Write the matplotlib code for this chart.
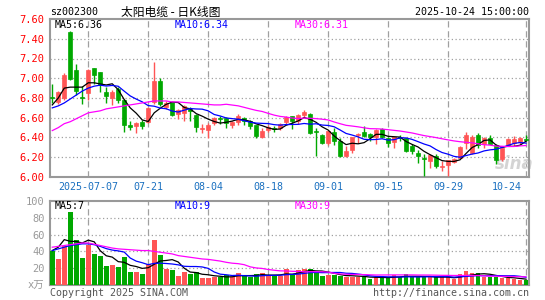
import numpy as np
import pandas as pd
import matplotlib
matplotlib.use("Agg")
import matplotlib.pyplot as plt

plt.rcParams['font.family'] = ['DejaVu Sans Mono', 'Noto Sans CJK SC']

# daily bars 2025-06-27 .. 2025-10-24 (80 trading days)
opens = [6.81, 6.76, 6.80, 7.47, 7.08, 6.81, 6.85, 7.10, 7.06, 6.86,
         6.80, 6.89, 6.78, 6.53, 6.52, 6.56, 6.56, 6.76, 6.97, 6.71,
         6.76, 6.64, 6.65, 6.69, 6.63, 6.49, 6.48, 6.55, 6.60, 6.60,
         6.53, 6.56, 6.60, 6.57, 6.53, 6.41, 6.48, 6.50, 6.50, 6.56,
         6.62, 6.57, 6.63, 6.64, 6.47, 6.43, 6.34, 6.46, 6.36, 6.21,
         6.27, 6.43, 6.46, 6.44, 6.41, 6.49, 6.39, 6.35, 6.40, 6.39,
         6.31, 6.24, 6.19, 6.16, 6.21, 6.10, 6.12, 6.15, 6.19, 6.34,
         6.24, 6.43, 6.33, 6.40, 6.32, 6.18, 6.32, 6.34, 6.35, 6.38]
highs = [6.94, 6.87, 7.05, 7.48, 7.14, 6.92, 7.09, 7.10, 7.06, 6.91,
         6.88, 6.91, 6.79, 6.57, 6.56, 6.58, 6.71, 7.16, 7.00, 6.77,
         6.76, 6.69, 6.73, 6.71, 6.64, 6.54, 6.55, 6.61, 6.62, 6.61,
         6.57, 6.64, 6.61, 6.58, 6.53, 6.50, 6.53, 6.52, 6.55, 6.62,
         6.62, 6.64, 6.68, 6.65, 6.50, 6.44, 6.47, 6.50, 6.39, 6.31,
         6.41, 6.45, 6.52, 6.45, 6.49, 6.50, 6.40, 6.41, 6.43, 6.39,
         6.33, 6.27, 6.23, 6.23, 6.23, 6.16, 6.17, 6.19, 6.31, 6.46,
         6.43, 6.45, 6.40, 6.43, 6.33, 6.30, 6.39, 6.42, 6.40, 6.43]
lows = [6.75, 6.74, 6.78, 6.98, 6.83, 6.74, 6.78, 6.94, 6.86, 6.75,
        6.73, 6.75, 6.46, 6.48, 6.45, 6.49, 6.55, 6.74, 6.72, 6.69,
        6.62, 6.59, 6.57, 6.57, 6.46, 6.45, 6.39, 6.53, 6.54, 6.50,
        6.50, 6.53, 6.53, 6.49, 6.39, 6.39, 6.46, 6.46, 6.48, 6.54,
        6.49, 6.54, 6.61, 6.44, 6.21, 6.33, 6.32, 6.32, 6.20, 6.20,
        6.24, 6.34, 6.41, 6.36, 6.33, 6.39, 6.30, 6.29, 6.36, 6.25,
        6.23, 6.14, 6.01, 6.09, 6.09, 6.06, 6.01, 6.14, 6.19, 6.28,
        6.23, 6.29, 6.29, 6.33, 6.13, 6.16, 6.31, 6.31, 6.33, 6.36]
closes = [6.80, 6.86, 7.03, 6.99, 6.87, 6.80, 7.08, 7.03, 6.93, 6.82,
          6.86, 6.78, 6.53, 6.51, 6.55, 6.52, 6.70, 6.97, 6.74, 6.75,
          6.63, 6.68, 6.72, 6.67, 6.51, 6.50, 6.53, 6.60, 6.59, 6.55,
          6.56, 6.62, 6.57, 6.52, 6.42, 6.47, 6.51, 6.49, 6.54, 6.61,
          6.57, 6.63, 6.66, 6.45, 6.46, 6.34, 6.47, 6.36, 6.21, 6.26,
          6.41, 6.44, 6.42, 6.41, 6.48, 6.41, 6.34, 6.40, 6.39, 6.26,
          6.26, 6.21, 6.18, 6.22, 6.11, 6.11, 6.17, 6.18, 6.30, 6.43,
          6.41, 6.32, 6.39, 6.33, 6.17, 6.29, 6.38, 6.38, 6.39, 6.37]
# volume, 10k lots
volumes = [41, 31, 47, 87, 53, 32, 48, 37, 34, 23,
           24, 21, 33, 16, 16, 13, 25, 53, 36, 19,
           18, 11, 16, 13, 16, 8, 8, 10, 10, 12,
           9, 14, 11, 10, 13, 14, 11, 11, 11, 19,
           12, 18, 19, 19, 16, 11, 12, 12, 11, 10,
           10, 10, 10, 7, 9, 9, 9, 12, 9, 13,
           9, 9, 11, 9, 9, 9, 9, 7, 13, 17,
           14, 14, 9, 10, 10, 8, 8, 7, 6, 6]

# moving averages for the first days (window reaches back before the chart)
ma5_head = [6.73, 6.80, 6.90, 6.91]
ma10_head = [6.70, 6.72, 6.75, 6.79, 6.83, 6.87, 6.90, 6.92, 6.93]
ma30_head = [6.47, 6.50, 6.54, 6.56, 6.59, 6.62, 6.65, 6.66, 6.67, 6.69,
             6.70, 6.71, 6.72, 6.73, 6.74, 6.75, 6.76, 6.77, 6.77, 6.77,
             6.76, 6.76, 6.755, 6.75, 6.745, 6.74, 6.735, 6.73, 6.73]
vma5_head = [41, 45, 54, 52]
vma10_head = [41, 43, 45, 47, 48, 49, 49, 48, 46]
vma30_head = [45, 46, 47, 48, 49, 50, 50, 48.5, 47, 45.5,
              44, 43, 42.5, 42, 41.5, 41, 41, 40, 39, 38,
              37, 35, 34, 33, 32, 31, 30.5, 29.5, 28.5]

date_idx = [6, 16, 26, 36, 46, 56, 66, 79]
date_labels = ["2025-07-07", "07-21", "08-04", "08-18", "09-01",
               "09-15", "09-29", "10-24"]

RED = "#ff5555"
GREEN = "#00a800"
GRID = "#a0a0a0"


def moving(values, n, head):
    m = pd.Series(values, dtype=float).rolling(n).mean().to_numpy()
    m[:len(head)] = head
    return m


o = np.array(opens)
h = np.array(highs)
l = np.array(lows)
c = np.array(closes)
v = np.array(volumes, dtype=float)
x = np.arange(len(c))
up = c >= o
colors = np.where(up, RED, GREEN)

fig = plt.figure(figsize=(5.45, 3.0), dpi=100)
W, H = 545, 300
ax = fig.add_axes([50 / W, 123 / H, 479 / W, 158 / H])
axv = fig.add_axes([50 / W, 15 / H, 479 / W, 84 / H])

for a in (ax, axv):
    a.set_xlim(-0.38, 79.5)
    for s in a.spines.values():
        s.set_color("#999999")
        s.set_linewidth(1.5)
    a.tick_params(length=0, pad=4, labelsize=7.5)
    a.set_xticks([])
    for i in date_idx:
        a.axvline(i, color=GRID, lw=0.9, ls=(0, (5, 3)), zorder=1)

# price panel
ax.set_ylim(6.0, 7.6)
ticks = np.round(np.arange(6.0, 7.61, 0.2), 2)
ax.set_yticks(ticks)
ax.set_yticklabels(["%.2f" % t for t in ticks], color="#ff0000")
for t in ticks[1:-1]:
    ax.axhline(t, color=GRID, lw=0.9, ls=(0, (1, 2)), zorder=1)

ax.text(0.969, 0.085, "sina", transform=ax.transAxes, ha="center", va="center",
        fontsize=12, fontweight="bold", style="italic", color="#d4d4d4",
        family="DejaVu Sans", zorder=1)

ax.vlines(x, l, h, colors=colors, lw=1.0, zorder=3)
body = np.maximum(np.abs(c - o), 0.005)
ax.bar(x, body, bottom=np.minimum(o, c), width=0.72, color=colors,
       edgecolor=colors, linewidth=0.5, zorder=4)

ax.plot(x, moving(closes, 5, ma5_head), color="black", lw=0.9, zorder=5)
ax.plot(x, moving(closes, 10, ma10_head), color="#0000ff", lw=0.9, zorder=5)
ax.plot(x, moving(closes, 30, ma30_head), color="#ff00ff", lw=0.9, zorder=5)

for i, lab in zip(date_idx, date_labels):
    if i == date_idx[-1]:
        ax.text(78.3, -0.063, lab, ha="right", va="center", fontsize=7.2,
                color="#1a70c0", transform=ax.get_xaxis_transform())
    else:
        ax.text(i, -0.063, lab, ha="center", va="center", fontsize=7.2,
                color="#1a70c0", transform=ax.get_xaxis_transform())

# volume panel
axv.set_ylim(0, 100)
vt = [0, 20, 40, 60, 80, 100]
axv.set_yticks(vt)
axv.set_yticklabels(["x万"] + [str(t) for t in vt[1:]], color="#999999")
for t in vt[1:-1]:
    axv.axhline(t, color=GRID, lw=0.9, ls=(0, (1, 2)), zorder=1)
axv.bar(x, v, width=0.8, color=colors, zorder=3)
axv.plot(x, moving(volumes, 5, vma5_head), color="black", lw=0.9, zorder=5)
axv.plot(x, moving(volumes, 10, vma10_head), color="#0000ff", lw=0.9, zorder=5)
axv.plot(x, moving(volumes, 30, vma30_head), color="#ff00ff", lw=0.9, zorder=5)


def ftext(px, py, s, **kw):
    fig.text(px / W, 1 - py / H, s, va="center", **kw)


fs = 7.2
ftext(50, 12, "sz002300", fontsize=fs, color="black")
ftext(121, 12, "太阳电缆 - 日K线图", fontsize=8.5, color="black",
      family=["Noto Sans CJK SC", "DejaVu Sans"])
ftext(529, 12, "2025-10-24 15:00:00", fontsize=fs, color="black", ha="right")

ftext(55, 24.5, "MA5:6.36", fontsize=fs, color="black")
ftext(175, 24.5, "MA10:6.34", fontsize=fs, color="#0000ff")
ftext(295, 24.5, "MA30:6.31", fontsize=fs, color="#ff00ff")
ftext(55, 206, "MA5:7", fontsize=fs, color="black")
ftext(175, 206, "MA10:9", fontsize=fs, color="#0000ff")
ftext(295, 206, "MA30:9", fontsize=fs, color="#ff00ff")

ftext(50, 293, "Copyright 2025 SINA.COM", fontsize=fs, color="#555555")
ftext(529, 293, "http://finance.sina.com.cn", fontsize=fs, color="#555555",
      ha="right")

fig.savefig("out.png", dpi=100)
